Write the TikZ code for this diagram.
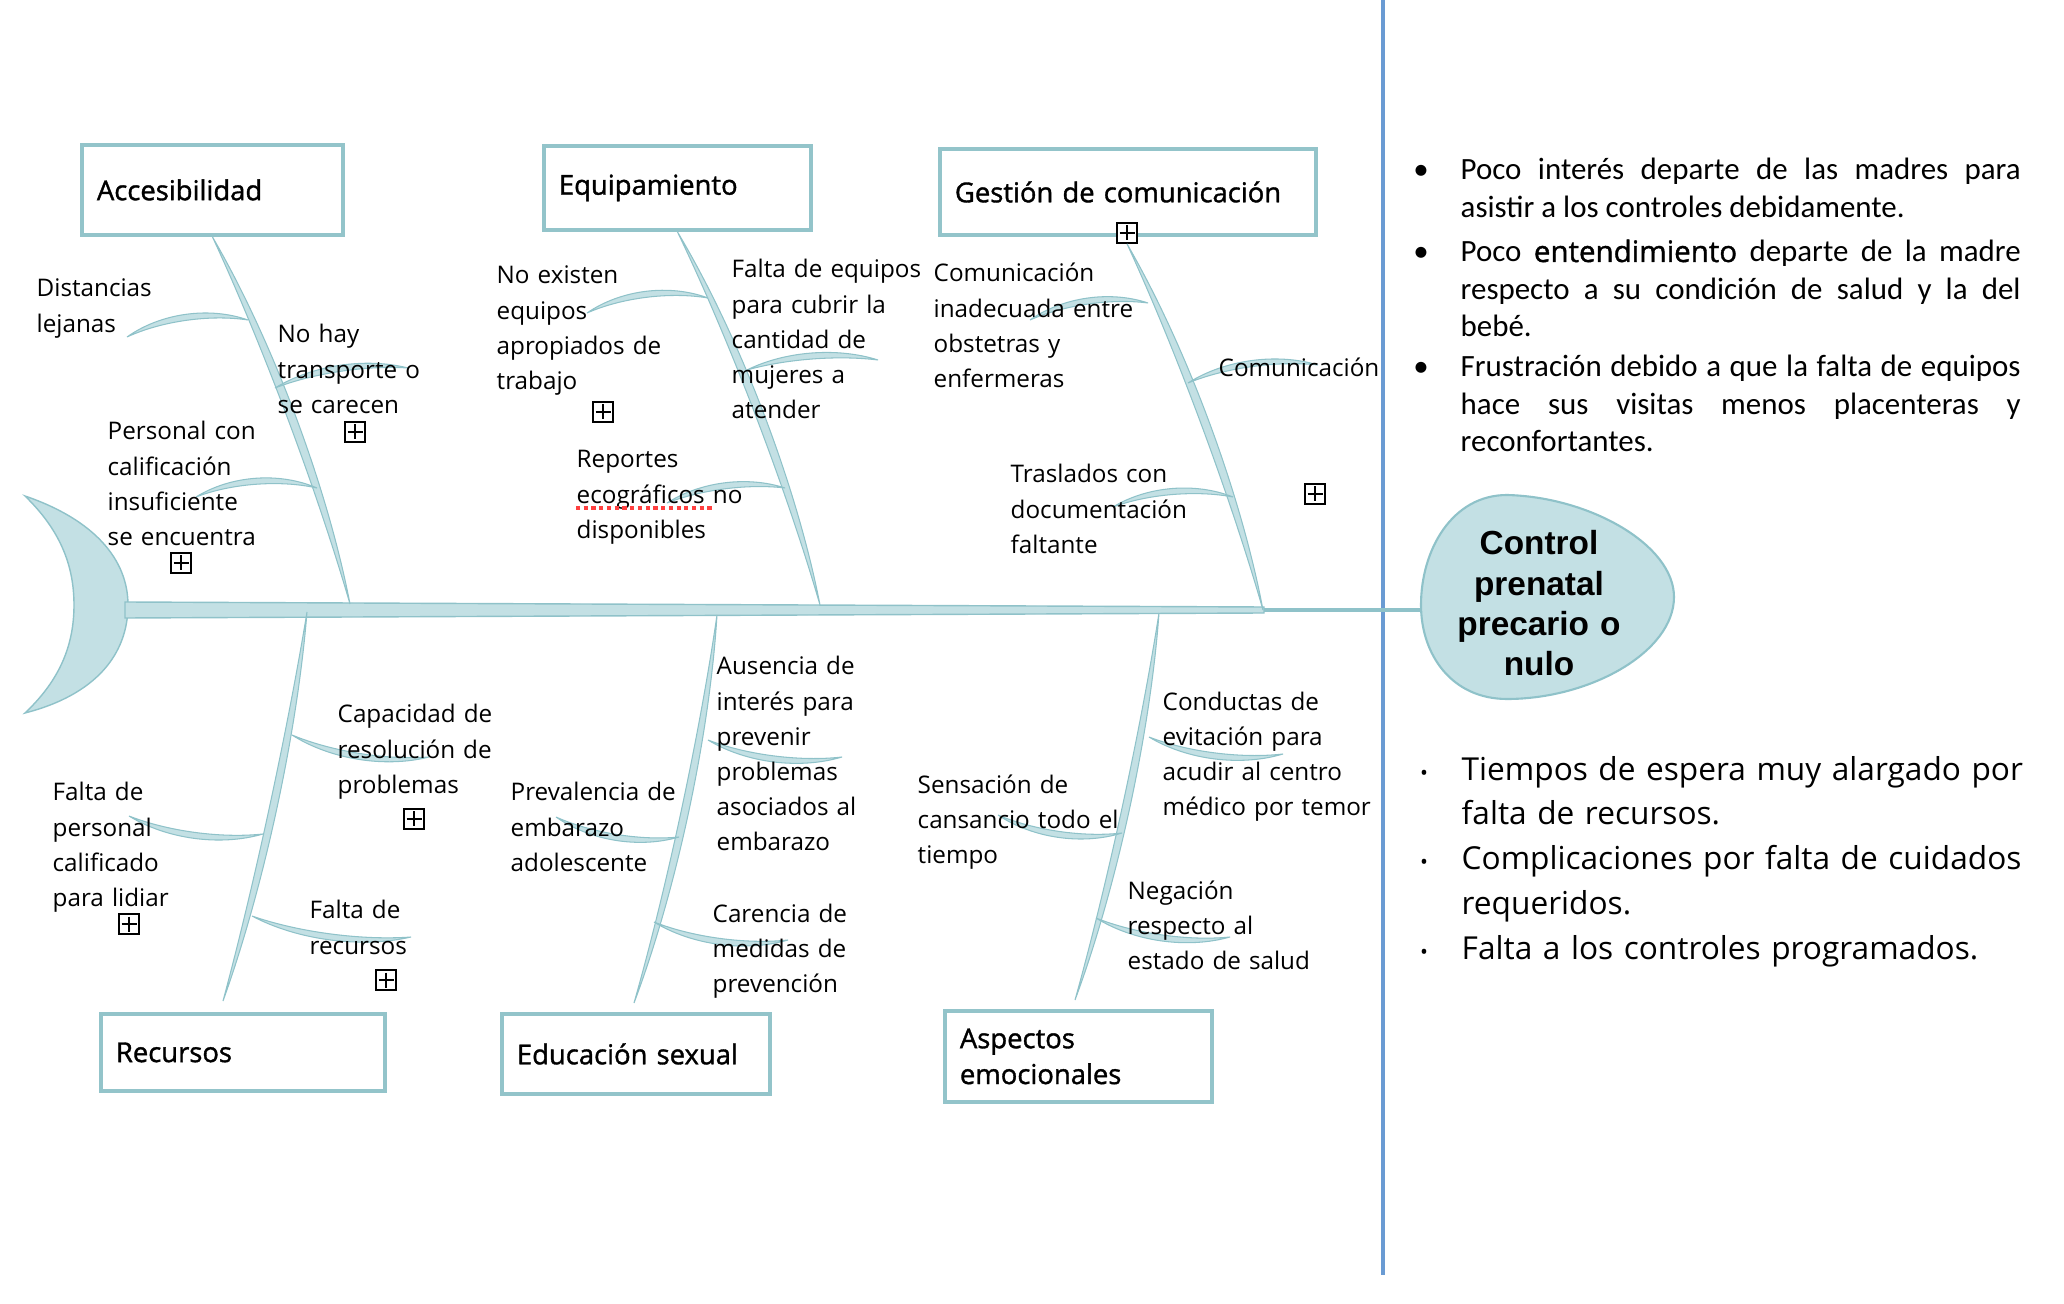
\documentclass[tikz,border=0pt]{standalone}
\usepackage{fontspec}
\usepackage{tikz}
\usetikzlibrary{calc}
\newfontfamily\comic{Open Sans}
\newfontfamily\comicheavy[FakeBold=1.3]{Open Sans}
\newfontfamily\calib{Carlito}
\newfontfamily\headfont{Liberation Sans}
\definecolor{bonefill}{HTML}{C3E0E4}
\definecolor{boneline}{HTML}{8FC2C9}
\definecolor{boxline}{HTML}{93C4CA}
\definecolor{divider}{HTML}{6A9BD3}
\hyphenpenalty=10000
\exhyphenpenalty=10000

\begin{document}
\begin{tikzpicture}[x=0.1mm, y=-0.1mm,
    bone/.style 2 args={draw=boneline, line width=0.3pt, fill=bonefill, to path={
        .. controls ($(\tikztostart)!0.3!(\tikztotarget)!#1!90:(\tikztotarget)$) and ($(\tikztostart)!0.7!(\tikztotarget)!#1!90:(\tikztotarget)$) .. (\tikztotarget)
        .. controls ($(\tikztostart)!0.7!(\tikztotarget)!#2!90:(\tikztotarget)$) and ($(\tikztostart)!0.3!(\tikztotarget)!#2!90:(\tikztotarget)$) .. (\tikztostart) -- cycle}},
    category/.style={draw=boxline, line width=1.1pt, fill=white, anchor=north west, inner xsep=1.5mm, align=left, font=\comicheavy\fontsize{7.8}{10.2}\selectfont},
    cause/.style={font=\comic\fontsize{6.9}{10}\selectfont, text width=24mm, align=left, anchor=base west, inner sep=0pt},
    plusbox/.style={draw, fill=white, line width=0.5pt, minimum size=2mm, inner sep=0pt, path picture={
        \draw[line width=0.4pt] ([yshift=0.75mm]path picture bounding box.center) -- ([yshift=-0.75mm]path picture bounding box.center)
            ([xshift=-0.75mm]path picture bounding box.center) -- ([xshift=0.75mm]path picture bounding box.center);}},
    note/.style={font=\calib\fontsize{8.8}{10.67}\selectfont, text width=56mm, align=justify, anchor=base west, inner sep=0pt},
    outcome/.style={font=\comic\fontsize{9.0}{12.7}\selectfont, text width=60mm, align=left, anchor=base west, inner sep=0pt},
    dot/.style={anchor=base, inner sep=0pt}]

            \useasboundingbox (0,0) rectangle (2064,1304);

            \draw[divider, line width=1pt] (1383,0) -- (1383,1275);

            \fill[bonefill, draw=boneline, line width=0.4pt] (25,496) .. controls (95,520) and (128,560) .. (128,605) .. controls (128,655) and (95,695) .. (25,713) .. controls (60,680) and (74,645) .. (74,605) .. controls (74,565) and (60,530) .. (25,496) -- cycle;
            \fill[bonefill, draw=boneline, line width=0.4pt] (125,602) -- (1264,607) -- (1264,613) -- (125,618) -- cycle;
            \fill[bonefill, draw=boneline, line width=0.6pt] (1507,495) .. controls (1590,497) and (1674,545) .. (1674,597) .. controls (1674,652) and (1590,699) .. (1507,699) .. controls (1452,699) and (1421,655) .. (1421,605) .. controls (1421,550) and (1452,495) .. (1507,495) -- cycle;

            \coordinate (spineEnd) at (1264,610);
            \coordinate (headLeft) at (1421,610);
            \coordinate (accBase) at (350,604);
            \coordinate (equBase) at (820,605);
            \coordinate (gesBase) at (1263,610);
            \coordinate (recBase) at (307,612);
            \coordinate (eduBase) at (717,615);
            \coordinate (aspBase) at (1159,613);
            \coordinate (recFoot) at (223,1001);
            \coordinate (eduFoot) at (634,1003);
            \coordinate (aspFoot) at (1075,1000);

            \node[category, minimum width=26.1mm, minimum height=9mm, text width=23.1mm] (acc) at (80,143) {Accesibilidad};
            \node[category, minimum width=26.7mm, minimum height=8.4mm, text width=23.7mm] (equ) at (542,144) {Equipamiento};
            \node[category, minimum width=37.6mm, minimum height=8.6mm, text width=34.6mm] (ges) at (938,147) {Gestión de comunicación};
            \node[category, minimum width=28.4mm, minimum height=7.7mm, text width=25.4mm] (rec) at (99,1012) {Recursos};
            \node[category, minimum width=26.8mm, minimum height=8mm, text width=23.8mm] (edu) at (500,1012) {Educación sexual};
            \node[category, minimum width=26.7mm, minimum height=9.1mm, text width=23.7mm] (asp) at (943,1009) {Aspectos\\emocionales};
            \node[plusbox] (gesPlus) at (1127,233) {};

            \coordinate (acc1) at (248,320);   \coordinate (acc1e) at (127,337);
            \coordinate (acc2) at (275,388);   \coordinate (acc2e) at (408,368);
            \coordinate (acc3) at (317,488);   \coordinate (acc3e) at (196,497);
            \coordinate (equ1) at (708,298);   \coordinate (equ1e) at (587,313);
            \coordinate (equ2) at (747,370);   \coordinate (equ2e) at (878,360);
            \coordinate (equ3) at (785,488);   \coordinate (equ3e) at (667,503);
            \coordinate (ges1) at (1148,303);  \coordinate (ges1e) at (1030,320);
            \coordinate (ges2) at (1188,383);  \coordinate (ges2e) at (1318,365);
            \coordinate (ges3) at (1233,497);  \coordinate (ges3e) at (1113,507);
            \coordinate (rec1) at (292,735);   \coordinate (rec1e) at (429,757);
            \coordinate (rec2) at (263,834);   \coordinate (rec2e) at (129,816);
            \coordinate (rec3) at (252,916);   \coordinate (rec3e) at (411,937);
            \coordinate (edu1) at (708,740);   \coordinate (edu1e) at (842,757);
            \coordinate (edu2) at (679,837);   \coordinate (edu2e) at (556,817);
            \coordinate (edu3) at (654,922);   \coordinate (edu3e) at (788,940);
            \coordinate (asp1) at (1149,737);  \coordinate (asp1e) at (1283,754);
            \coordinate (asp2) at (1122,833);  \coordinate (asp2e) at (998,815);
            \coordinate (asp3) at (1096,918);  \coordinate (asp3e) at (1230,937);

            \draw[boneline, line width=1pt] (spineEnd) -- (headLeft);

            \path (acc.south) edge[bone={0.9mm}{2.0mm}] (accBase);
            \path (equ.south) edge[bone={1.0mm}{2.1mm}] (equBase);
            \path (gesPlus.south) edge[bone={0.9mm}{2.0mm}] (gesBase);
            \path (recBase) edge[bone={0.6mm}{1.6mm}] (recFoot);
            \path (eduBase) edge[bone={0.8mm}{1.8mm}] (eduFoot);
            \path (aspBase) edge[bone={0.7mm}{1.7mm}] (aspFoot);

            \path (acc1) edge[bone={-1.1mm}{-1.9mm}] (acc1e);
            \path (acc2) edge[bone={0.9mm}{1.7mm}] (acc2e);
            \path (acc3) edge[bone={-1.1mm}{-1.9mm}] (acc3e);
            \path (equ1) edge[bone={-1.1mm}{-1.9mm}] (equ1e);
            \path (equ2) edge[bone={0.8mm}{1.6mm}] (equ2e);
            \path (equ3) edge[bone={-0.9mm}{-1.7mm}] (equ3e);
            \path (ges1) edge[bone={-1.0mm}{-1.8mm}] (ges1e);
            \path (ges2) edge[bone={1.0mm}{1.8mm}] (ges2e);
            \path (ges3) edge[bone={-1.0mm}{-1.8mm}] (ges3e);
            \path (rec1) edge[bone={-1.0mm}{-1.8mm}] (rec1e);
            \path (rec2) edge[bone={1.0mm}{1.8mm}] (rec2e);
            \path (rec3) edge[bone={-1.0mm}{-1.8mm}] (rec3e);
            \path (edu1) edge[bone={-1.0mm}{-1.8mm}] (edu1e);
            \path (edu2) edge[bone={1.0mm}{1.8mm}] (edu2e);
            \path (edu3) edge[bone={-1.0mm}{-1.8mm}] (edu3e);
            \path (asp1) edge[bone={-1.0mm}{-1.8mm}] (asp1e);
            \path (asp2) edge[bone={1.0mm}{1.8mm}] (asp2e);
            \path (asp3) edge[bone={-1.0mm}{-1.8mm}] (asp3e);

            \node[cause] (distancias) at (36,297) {Distancias\\lejanas};
            \node[cause] (transporte) at (277,343) {No hay\\transporte o\\se carecen};
            \node[cause] (personal) at (107,440) {Personal con\\calificación\\insuficiente\\se encuentra};
            \node[cause] (noexisten) at (496,284) {No existen\\equipos\\apropiados de\\trabajo};
            \node[cause] (faltaeq) at (731,278) {Falta de equipos\\para cubrir la\\cantidad de\\mujeres a\\atender};
            \node[cause] (reportes) at (576,468) {Reportes\\ecográficos no\\disponibles};
            \node[cause] (cominad) at (933,282) {Comunicación\\inadecuada entre\\obstetras y\\enfermeras};
            \node[cause] (comunic) at (1218,377) {Comunicación};
            \node[cause] (traslados) at (1010,483) {Traslados con\\documentación\\faltante};
            \node[cause] (capacidad) at (337,723) {Capacidad de\\resolución de\\problemas};
            \node[cause] (faltapers) at (52,801) {Falta de\\personal\\calificado\\para lidiar};
            \node[cause] (faltarec) at (309,919) {Falta de\\recursos};
            \node[cause] (prevalencia) at (510,801) {Prevalencia de\\embarazo\\adolescente};
            \node[cause] (ausencia) at (716,675) {Ausencia de\\interés para\\prevenir\\problemas\\asociados al\\embarazo};
            \node[cause] (carencia) at (712,922) {Carencia de\\medidas de\\prevención};
            \node[cause] (sensacion) at (917,793) {Sensación de\\cansancio todo el\\tiempo};
            \node[cause] (conductas) at (1162,710) {Conductas de\\evitación para\\acudir al centro\\médico por temor};
            \node[cause] (negacion) at (1127,899) {Negación\\respecto al\\estado de salud};
            \draw[red!75, densely dotted, line width=1.2pt] (576,508) -- (712,508);

            \node[plusbox] (p1) at (355,432) {};
            \node[plusbox] (p2) at (181,563) {};
            \node[plusbox] (p3) at (603,412) {};
            \node[plusbox] (p4) at (1315,494) {};
            \node[plusbox] (p5) at (414,819) {};
            \node[plusbox] (p6) at (129,924) {};
            \node[plusbox] (p7) at (386,980) {};

            \node[text width=25mm, align=center, anchor=base, inner sep=0pt, font=\headfont\bfseries\fontsize{9.5}{11.4}\selectfont] (effect) at (1539,555) {Control\\prenatal\\precario o\\nulo};

            \node[dot, font=\calib\fontsize{8.8}{10.67}\selectfont] (b1) at (1421,180) {•};
            \node[dot, font=\calib\fontsize{8.8}{10.67}\selectfont] (b2) at (1421,262) {•};
            \node[dot, font=\calib\fontsize{8.8}{10.67}\selectfont] (b3) at (1421,377) {•};
            \node[note] (n1) at (1460,180) {Poco interés departe de las madres para\linebreak asistir a los controles debidamente.};
            \node[note] (n2) at (1460,262) {Poco {\comicheavy\fontsize{8.4}{10.67}\selectfont entendimiento} departe de la madre\linebreak respecto a su condición de salud y la del\linebreak bebé.};
            \node[note] (n3) at (1460,377) {Frustración debido a que la falta de equipos\linebreak hace sus visitas menos placenteras y\linebreak reconfortantes.};

            \node[dot, font=\comic\fontsize{6}{8}\selectfont] (d1) at (1424,780) {•};
            \node[dot, font=\comic\fontsize{6}{8}\selectfont] (d2) at (1424,870) {•};
            \node[dot, font=\comic\fontsize{6}{8}\selectfont] (d3) at (1424,959) {•};
            \node[outcome] (o1) at (1461,780) {Tiempos de espera muy alargado por\\falta de recursos.};
            \node[outcome] (o2) at (1461,870) {Complicaciones por falta de cuidados\\requeridos.};
            \node[outcome] (o3) at (1461,959) {Falta a los controles programados.};
            \end{tikzpicture}
\end{document}
